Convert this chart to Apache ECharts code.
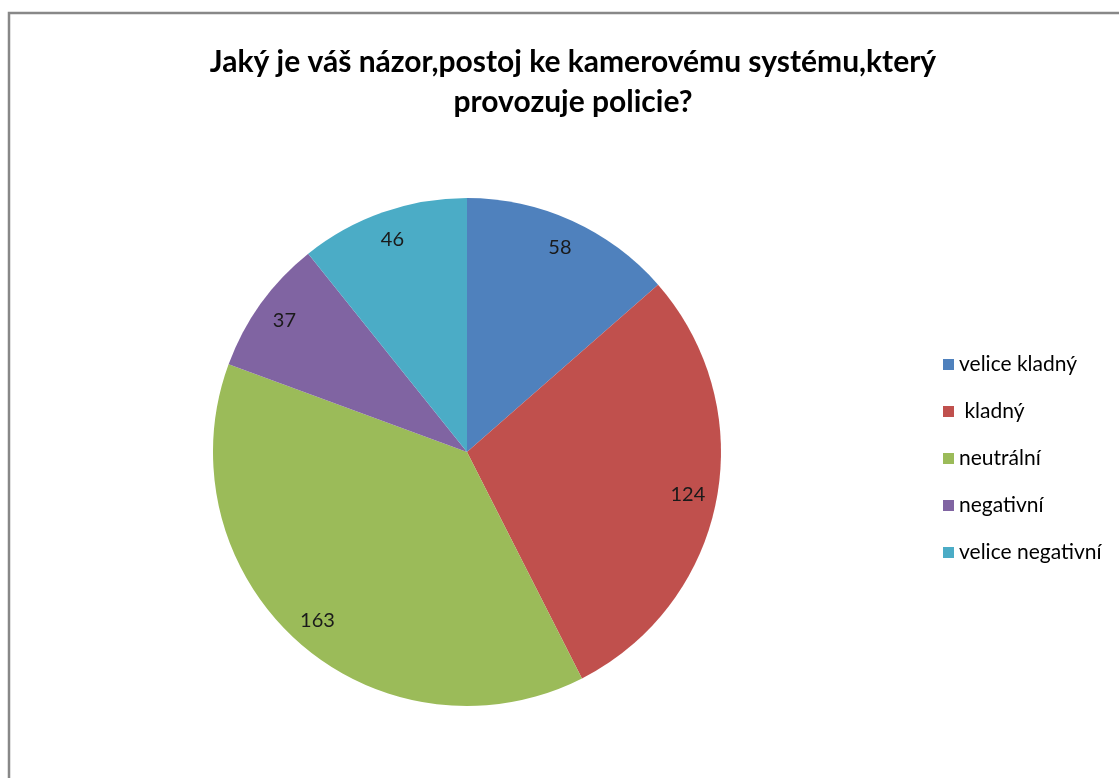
<!DOCTYPE html>
<html>
<head>
<meta charset="utf-8">
<script src="https://cdn.jsdelivr.net/npm/echarts@6/dist/echarts.min.js"></script>
<style>
  html, body { margin: 0; padding: 0; background: #fff; }
  #chart { width: 1119px; height: 778px; }
</style>
</head>
<body>
<div id="chart"></div>
<script>
const categories = ['velice kladný', ' kladný', 'neutrální', 'negativní', 'velice negativní']
const values = [58, 124, 163, 37, 46]
const colors = ['#4F81BD', '#C0504D', '#9BBB59', '#8064A2', '#4BACC6']
const titleText = 'Jaký je váš názor,postoj ke kamerovému systému,který\nprovozuje policie?'

const pieData = categories.map((name, i) => ({ name, value: values[i] }))
const fontFamily = 'Lato, "Open Sans", sans-serif'

const chart = echarts.init(document.getElementById('chart'))
const option = {
  animation: false,
  color: colors,
  title: {
    text: titleText,
    left: 568,
    top: 37,
    textAlign: 'center',
    textStyle: {
      fontFamily,
      fontSize: 30,
      fontWeight: 'bold',
      color: '#000',
      lineHeight: 40
    }
  },
  legend: {
    orient: 'vertical',
    left: 938,
    top: 349,
    icon: 'rect',
    itemWidth: 11,
    itemHeight: 11,
    itemGap: 26,
    textStyle: {
      fontFamily,
      fontSize: 21,
      color: '#000',
      lineHeight: 20
    },
    data: categories
  },
  graphic: [
    {
      type: 'rect',
      silent: true,
      shape: { x: 9, y: 13, width: 1200, height: 900 },
      style: { fill: 'none', stroke: '#888', lineWidth: 2.5 }
    }
  ],
  series: [
    {
      type: 'pie',
      center: [467, 452],
      radius: [0, 254],
      startAngle: 90,
      clockwise: true,
      silent: true,
      label: { show: false },
      labelLine: { show: false },
      data: pieData
    },
    {
      // transparent ring only used to place the value labels near the rim
      type: 'pie',
      center: [467, 452],
      radius: [190, 254],
      startAngle: 90,
      clockwise: true,
      silent: true,
      itemStyle: { color: 'transparent' },
      label: {
        show: true,
        position: 'inside',
        formatter: '{c}',
        fontFamily,
        fontSize: 20,
        color: '#1a1a1a'
      },
      labelLine: { show: false },
      data: pieData
    }
  ]
}
chart.setOption(option)
</script>
</body>
</html>
